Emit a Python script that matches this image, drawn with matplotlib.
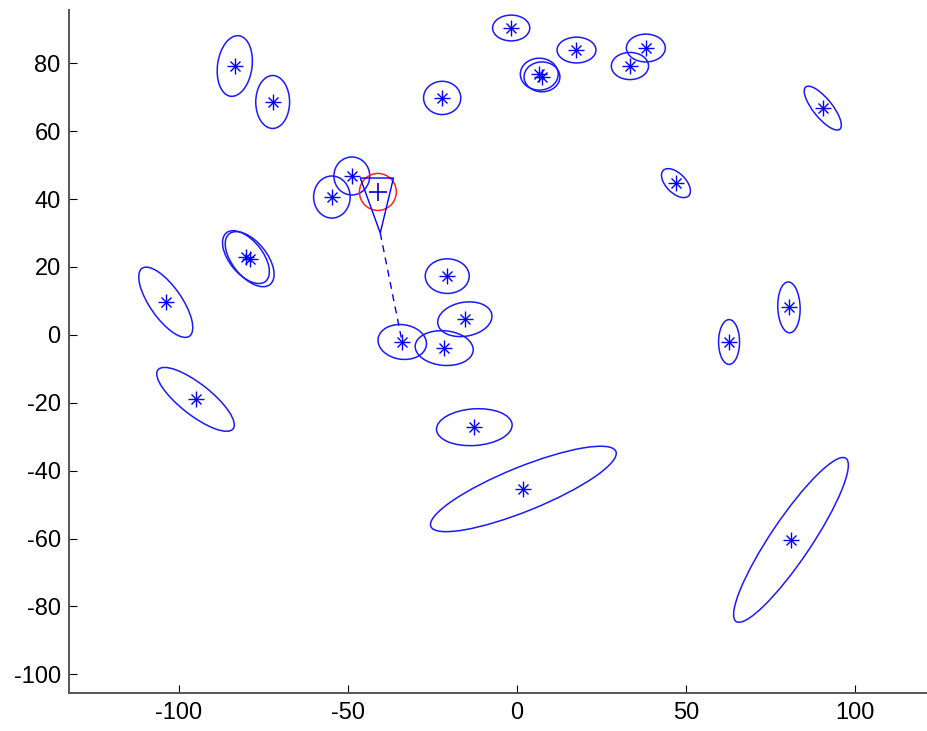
import matplotlib
matplotlib.use("Agg")
import matplotlib.pyplot as plt
from matplotlib.patches import Ellipse, Circle, Polygon

plt.rcParams['font.family'] = ['Liberation Sans', 'DejaVu Sans']
plt.rcParams['axes.unicode_minus'] = False

# Landmark estimates (centres) and their uncertainty ellipses
lm_x = [-83.4, -72.2, -1.7, 6.6, 7.4, 17.6, 33.4, 38.1, -22.1, 90.4,
        47.0, 62.7, 80.4, 81.0, 1.9, -12.6, -95.0, -103.8, -80.1, -79.0,
        -54.7, -48.8, -33.9, -21.5, -15.4, -20.6]
lm_y = [79.2, 68.6, 90.4, 76.8, 76.0, 83.9, 79.2, 84.5, 69.8, 66.8,
        44.7, -2.1, 8.1, -60.4, -45.4, -27.2, -19.0, 9.6, 22.9, 22.3,
        40.6, 46.8, -2.1, -3.9, 4.6, 17.3]
ell_a = [9.0, 7.8, 5.5, 5.6, 5.3, 5.75, 5.5, 5.75, 5.5, 8.0,
         5.3, 6.6, 7.5, 29.0, 29.5, 11.2, 14.1, 12.2, 9.2, 9.6,
         6.2, 5.6, 7.2, 8.6, 8.1, 6.5]
ell_b = [5.1, 5.0, 3.8, 4.7, 4.4, 3.8, 4.0, 4.1, 4.9, 2.8,
         2.9, 3.1, 3.3, 6.0, 6.5, 5.4, 4.6, 4.7, 4.9, 5.1,
         5.4, 5.3, 5.1, 5.1, 5.0, 5.1]
ell_ang = [82, 90, 0, 0, 0, 0, 0, 0, 0, -51,
           -45, 90, 92, 56, 22, 4, -38, -55, -51, -51,
           90, 90, -8, -5, 10, 0]

# Robot pose, sensor field-of-view and current observation
robot_x, robot_y, robot_r = -41.1, 42.1, 5.45
fov_x = [-46.3, -36.5, -40.4]
fov_y = [46.2, 46.2, 30.0]
obs_x = [-40.4, -34.2]
obs_y = [30.0, -0.8]

xlim = (-132.4, 121.5)
ylim = (-105.6, 95.7)
xticks = [-100, -50, 0, 50, 100]
yticks = [-100, -80, -60, -40, -20, 0, 20, 40, 60, 80]

fig = plt.figure(figsize=(9.28, 7.31), dpi=100)
ax = fig.add_axes([69/928, 37.7/731, 859/928, 683.3/731])

for x, y, a, b, ang in zip(lm_x, lm_y, ell_a, ell_b, ell_ang):
    ax.add_patch(Ellipse((x, y), 2*a, 2*b, angle=ang, fill=False,
                         edgecolor='#1a1aff', lw=1.1))

ax.plot(lm_x, lm_y, ls='none', marker='+', ms=12, mew=1.0, color='#0000ff')
ax.plot(lm_x, lm_y, ls='none', marker='x', ms=7.5, mew=1.0, color='#0000ff')

ax.add_patch(Circle((robot_x, robot_y), robot_r, fill=False, edgecolor='#ff2020', lw=1.1))
ax.add_patch(Polygon(list(zip(fov_x, fov_y)), closed=True, fill=False,
                     edgecolor='#0000ff', lw=1.0))
ax.plot([robot_x], [robot_y], ls='none', marker='+', ms=13, mew=1.2, color='#0000cc')
ax.plot(obs_x, obs_y, ls=(0, (5, 4)), color='#0000ff', lw=1.0)

ax.set_xlim(*xlim)
ax.set_ylim(*ylim)
ax.set_xticks(xticks)
ax.set_yticks(yticks)
ax.tick_params(direction='in', length=6, width=0.8, color='black',
               labelsize=17, pad=6, labelcolor='black')
for s in ['top', 'right']:
    ax.spines[s].set_visible(False)
for s in ['left', 'bottom']:
    ax.spines[s].set_color('#555555')
    ax.spines[s].set_linewidth(1.4)

fig.savefig('out.png', dpi=100)
